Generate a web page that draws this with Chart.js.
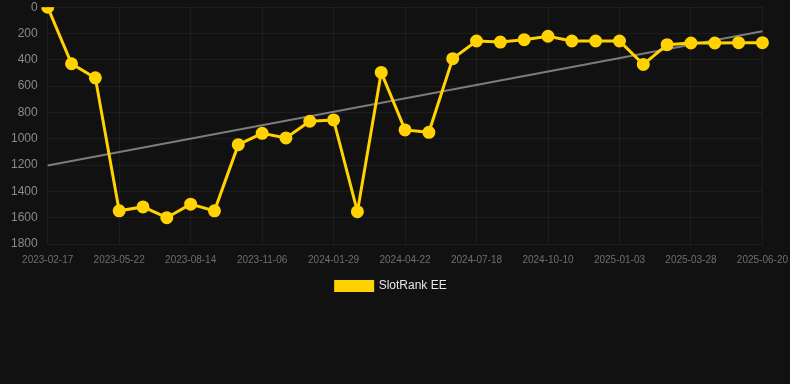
<!DOCTYPE html>
<html>
<head>
<meta charset="utf-8">
<script src="https://cdn.jsdelivr.net/npm/chart.js@4/dist/chart.umd.min.js"></script>
<style>
  html, body { margin: 0; padding: 0; background: #111111; overflow: hidden; }
  #wrap { position: absolute; left: -3px; top: -10px; width: 801px; height: 312px; }
</style>
</head>
<body>
<div id="wrap"><canvas id="rankChart"></canvas></div>
<script>
// dates (every third one shows on the axis)
const dates = [
    '2023-02-17', '2023-03-20', '2023-04-21',
    '2023-05-22', '2023-06-19', '2023-07-17',
    '2023-08-14', '2023-09-11', '2023-10-09',
    '2023-11-06', '2023-12-04', '2024-01-01',
    '2024-01-29', '2024-02-26', '2024-03-25',
    '2024-04-22', '2024-05-20', '2024-06-20',
    '2024-07-18', '2024-08-15', '2024-09-12',
    '2024-10-10', '2024-11-07', '2024-12-06',
    '2025-01-03', '2025-01-31', '2025-02-28',
    '2025-03-28', '2025-04-25', '2025-05-23',
    '2025-06-20'
];

const rankEE = [
    0, 430, 537, 1548, 1518, 1600, 1497, 1548, 1045, 959,
    994, 867, 857, 1554, 496, 933, 951, 391, 257, 265,
    247, 221, 257, 257, 257, 435, 285, 272, 272, 270, 270
];

// trend line, only the two ends are known
const trendEE = dates.map(() => null);
trendEE[0] = 1203;
trendEE[dates.length - 1] = 182;

const yTicks = [0, 200, 400, 600, 800, 1000, 1200, 1400, 1600, 1800];

const colors = {
    line: '#FFD200',
    trend: 'rgba(160, 160, 160, 0.75)',
    grid: 'rgba(255, 255, 255, 0.05)',
    tickY: '#8a8a8a',
    tickX: '#6f6f6f',
    legend: '#e6e6e6'
};

Chart.defaults.font.family = 'Arial, "Liberation Sans", Helvetica, sans-serif';

const ctx = document.getElementById('rankChart').getContext('2d');

new Chart(ctx, {
    type: 'line',
    data: {
        labels: dates,
        datasets: [
            {
                label: 'SlotRank EE',
                data: rankEE,
                borderColor: colors.line,
                backgroundColor: colors.line,
                borderWidth: 3,
                pointRadius: 5,
                pointHoverRadius: 6,
                pointBackgroundColor: colors.line,
                pointBorderColor: colors.line,
                tension: 0
            },
            {
                label: 'Trend',
                data: trendEE,
                borderColor: colors.trend,
                borderWidth: 2,
                pointRadius: 0,
                spanGaps: true,
                tension: 0
            }
        ]
    },
    options: {
        responsive: true,
        maintainAspectRatio: false,
        animation: false,
        layout: {
            padding: { left: 4, right: 0, top: 0, bottom: 0 }
        },
        plugins: {
            legend: {
                position: 'bottom',
                labels: {
                    color: colors.legend,
                    boxWidth: 37,
                    boxHeight: 9,
                    font: { size: 12 },
                    padding: 4,
                    // pad the text a bit so the item sits where the original one does
                    generateLabels: (chart) => {
                        const items = Chart.defaults.plugins.legend.labels.generateLabels(chart);
                        return items.map(it => ({ ...it, text: it.text + '\u00a0\u00a0\u00a0\u00a0\u00a0' }));
                    },
                    filter: (item) => item.datasetIndex === 0
                }
            },
            tooltip: { enabled: false }
        },
        scales: {
            x: {
                grid: { color: colors.grid, drawTicks: false },
                border: { display: false },
                ticks: {
                    color: colors.tickX,
                    font: { size: 10 },
                    padding: 10,
                    maxRotation: 0,
                    autoSkip: false,
                    callback: function(value, index) {
                        return index % 3 === 0 ? dates[index] : null;
                    }
                }
            },
            y: {
                reverse: true,
                min: 0,
                max: 1800,
                afterBuildTicks: (axis) => {
                    axis.ticks = yTicks.map(v => ({ value: v }));
                },
                grid: { color: colors.grid, drawTicks: false },
                border: { display: false },
                ticks: {
                    color: colors.tickY,
                    font: { size: 12 },
                    padding: 10,
                    callback: (value) => String(value)
                }
            }
        }
    }
});
</script>
</body>
</html>
